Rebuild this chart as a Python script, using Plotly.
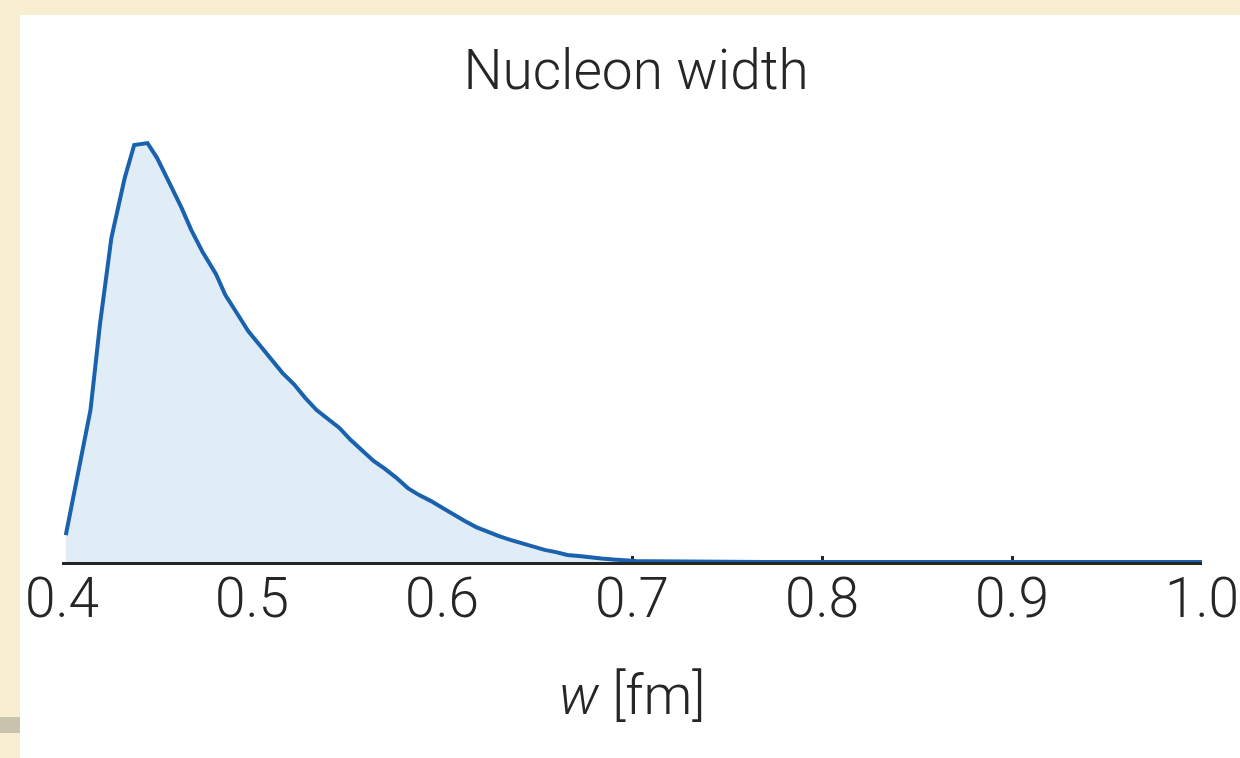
import plotly.graph_objects as go

# Nucleon width posterior density (arbitrary normalisation)
width_fm = [0.402, 0.408, 0.415, 0.420, 0.426, 0.433, 0.438, 0.445, 0.450, 0.456,
            0.463, 0.468, 0.474, 0.481, 0.486, 0.492, 0.498, 0.504, 0.510, 0.516,
            0.522, 0.528, 0.534, 0.540, 0.546, 0.552, 0.558, 0.564, 0.570, 0.576,
            0.582, 0.588, 0.594, 0.600, 0.606, 0.612, 0.618, 0.624, 0.630, 0.636,
            0.642, 0.648, 0.654, 0.660, 0.666, 0.672, 0.678, 0.684, 0.690, 0.696,
            0.702, 0.708, 0.714, 0.720, 0.735, 0.750, 0.780, 0.820, 0.870, 0.930,
            1.000]
density = [0.84, 2.63, 4.75, 7.44, 10.13, 12.00, 13.03, 13.09, 12.63, 11.91,
           11.06, 10.38, 9.69, 9.00, 8.34, 7.78, 7.22, 6.78, 6.34, 5.91,
           5.56, 5.13, 4.75, 4.47, 4.19, 3.81, 3.47, 3.16, 2.91, 2.63,
           2.31, 2.09, 1.91, 1.69, 1.47, 1.28, 1.09, 0.94, 0.81, 0.69,
           0.59, 0.47, 0.38, 0.31, 0.22, 0.19, 0.14, 0.11, 0.08, 0.05,
           0.03, 0.022, 0.016, 0.011, 0.006, 0.004, 0.002, 0.001, 0.0003, 0.0002,
           0.0]

tick_vals = [0.4, 0.5, 0.6, 0.7, 0.8, 0.9, 1.0]
tick_text = ["0.4", "0.5", "0.6", "0.7", "0.8", "0.9", "1.0"]

W, H = 1240, 758
ML, MR, MT, MB = 62, 38, 120, 196
PW, PH = W - ML - MR, H - MT - MB


def px_x(p):
    return (p - ML) / PW


def px_y(p):
    return (H - MB - p) / PH


FONT = "Roboto"
INK = "#262626"

fig = go.Figure()
fig.add_trace(go.Scatter(
    x=width_fm, y=density, mode="lines",
    line=dict(color="#1a62ae", width=4),
    fill="tozeroy", fillcolor="#e0edf6",
    hoverinfo="skip", showlegend=False,
))

fig.update_layout(
    width=W, height=H,
    margin=dict(l=ML, r=MR, t=MT, b=MB, autoexpand=False),
    paper_bgcolor="#f8eed1",
    plot_bgcolor="rgba(0,0,0,0)",
    title=dict(text="Nucleon width", x=px_x(636), xref="paper", xanchor="center",
               y=1 - 70 / H, yref="container", yanchor="middle",
               font=dict(family=FONT, size=55, color=INK, weight=300)),
    xaxis=dict(
        range=[0.4, 1.0], tickvals=tick_vals, ticktext=tick_text,
        automargin=False,
        showgrid=False, zeroline=False, showline=True,
        linecolor=INK, linewidth=2.5, layer="below traces",
        ticks="inside", ticklen=6, tickwidth=3, tickcolor=INK,
        ticklabelstandoff=-14,
        tickfont=dict(family=FONT, size=55, color=INK, weight=300),
        title=dict(text="<i>w</i> [fm]", standoff=47,
                   font=dict(family=FONT, size=55, color=INK, weight=300)),
    ),
    yaxis=dict(range=[0, PH / 32], visible=False, showgrid=False, zeroline=False),
    shapes=[
        dict(type="rect", xref="paper", yref="paper", layer="below",
             x0=px_x(20), x1=px_x(W), y0=px_y(H), y1=px_y(15),
             fillcolor="white", line=dict(width=0)),
        dict(type="rect", xref="paper", yref="paper", layer="below",
             x0=px_x(0), x1=px_x(20), y0=px_y(733), y1=px_y(717),
             fillcolor="#c9c3ae", line=dict(width=0)),
    ],
)

fig.write_html("out.html")
